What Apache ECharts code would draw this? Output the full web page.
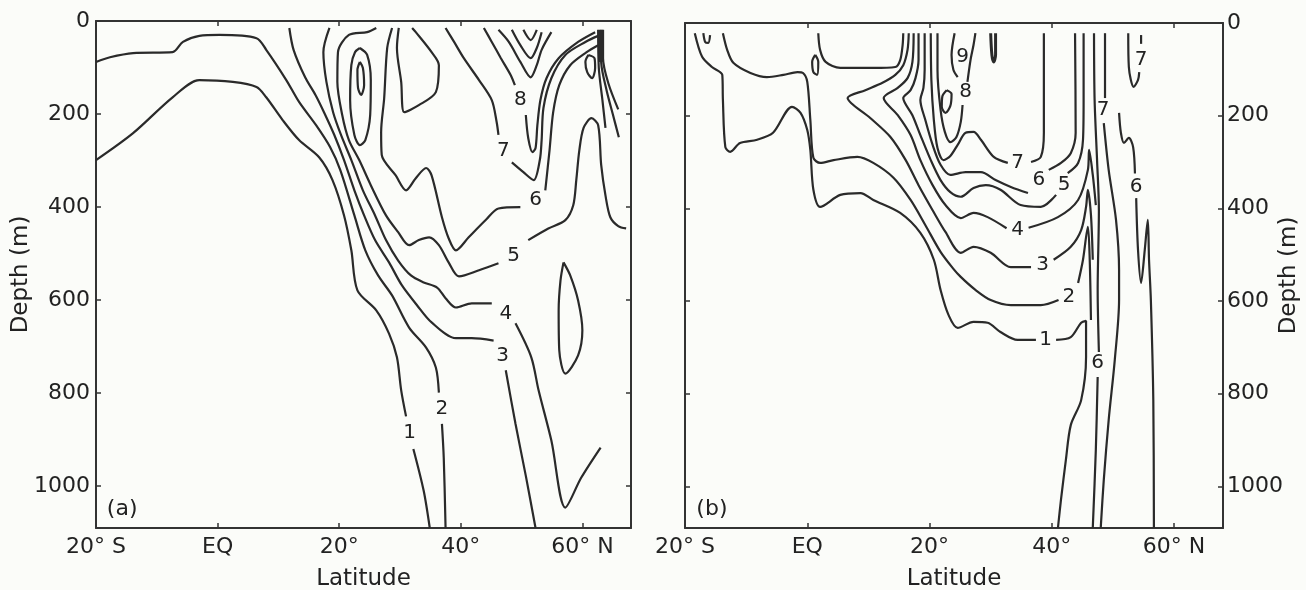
<!DOCTYPE html>
<html>
<head>
<meta charset="utf-8">
<script src="https://cdn.jsdelivr.net/npm/echarts@6/dist/echarts.min.js"></script>
<style>
  html, body { margin: 0; padding: 0; background: #fbfcf9; }
  #chart { width: 1306px; height: 590px; }
</style>
</head>
<body>
<div id="chart"></div>
<script>
// Axis ticks
const latTicks = [-20, 0, 20, 40, 60];
const latTickLabels = ['20° S', 'EQ', '20°', '40°', '60° N'];
const depthTicks = [0, 200, 400, 600, 800, 1000];

// ---- Panel (a): isolines as [latitude, depth] segments (gaps hold the labels)
const a1 = [
  [[-20,299],[-13.9,241],[-7.4,164],[-3,127],[2.5,131],[6.4,142],[8,164],[10.7,213],[13.4,256],[16.7,293],[18.9,342],[20.8,418],[22,493],[23,579],[26.1,622],[28.2,672],[29.5,723],[30.2,794],[31,850]],
  [[32.2,920],[33.9,1010],[34.9,1090]]
];
const a2 = [
  [[-20,88],[-17.7,78],[-13.9,69],[-7.4,67],[-5.7,45],[-3,32],[0.3,30],[6.4,37],[8,62],[11.3,127],[13.4,174],[16.2,224],[18.5,271],[20.2,321],[22.5,418],[24.3,493],[26.4,547],[28.7,590],[31.5,659],[34.3,702],[35.9,745],[36.4,799]],
  [[36.9,866],[37.2,939],[37.5,1090]]
];
const a3 = [
  [[11.8,15],[12.5,62],[14.4,121],[16.1,159],[17.5,196],[19.2,245],[20.8,299],[22.5,364],[24.1,418],[25.9,471],[28.2,519],[30.3,568],[32.8,611],[35.2,648],[39.2,682],[41.8,682],[45.4,687]],
  [[47.4,751],[49,866],[50.7,978],[52.3,1090]]
];
const a4 = [
  [[18.4,15],[17.4,67],[17.9,131],[19,196],[20.3,245],[22,299],[23.9,364],[25.9,418],[27.7,471],[29.7,515],[31.8,547],[33.9,562],[36.1,573],[37.5,596],[39.2,616],[41.8,607],[45.1,607]],
  [[49,650],[51.6,723],[52.8,794],[54.9,902],[57.2,1046],[59.8,982],[63,917]]
];
const a5 = [
  [[26.1,15],[24.6,24],[21.6,30],[19.8,67],[19.7,131],[20.5,202],[21.6,256],[23.3,299],[25.2,353],[27.7,418],[29.7,454],[31.5,482],[33.1,471],[34.8,465],[36.4,482],[38,519],[39.7,549],[43,536],[46.2,521]],
  [[51.1,471],[54.4,446],[57.2,428],[58.5,396],[59,342],[59.5,278],[60.2,230],[61.5,209],[62.6,224],[63.1,310],[63.8,375],[64.6,422],[65.9,441],[67.2,446]]
];
const a6 = [
  [[28.7,15],[27.9,58],[27.4,166],[26.9,239],[27,288],[29.3,332],[31,364],[32.6,338],[34.3,316],[35.2,332],[36.9,422],[38,467],[39.2,493],[41.3,465],[44.1,428],[46.2,403],[49.8,400]],
  [[53.9,364],[54.6,278],[55.2,196],[56.2,138],[58,95],[60.7,67],[62.6,52]]
];
const a7 = [
  [[37.5,15],[38.9,45],[40.5,80],[43,127],[45.1,170],[45.9,217],[46.2,245]],
  [[48.4,304],[50.3,325],[52,342],[53,299],[53.3,256],[53.6,187],[54.9,123],[57.2,73],[60.5,45],[62.6,32]]
];
const a8 = [
  [[43.8,15],[45.1,45],[46.6,80],[48.2,116],[48.9,138]],
  [[50.7,202],[51.1,252],[51.8,282],[52.3,273],[52.6,224],[53.1,170],[54.1,123],[56.1,80],[59.3,45],[62.1,24]]
];
const a9 = [[[46.2,19],[47.9,45],[49.8,88],[51.5,121],[52.5,95],[53.3,62],[54.9,24]]];
const a10 = [[[48.4,19],[49.8,52],[51.5,80],[52.5,58],[53.3,24]]];
const a11 = [[[50.3,19],[51.5,41],[52.5,19]]];
const aPocket = [[[29.8,15],[29.5,58],[30.2,131],[30.7,196],[33.1,181],[35.9,153],[36.4,95],[35.2,67],[32.6,24],[32,15]]];
const aEye = [
  [[23.4,58],[24.6,73],[25.2,127],[25.1,202],[24.3,256],[23.4,267],[22.5,245],[21.8,170],[22,95],[22.6,67],[23.4,58]],
  [[23.4,88],[23.9,101],[24.1,138],[23.6,159],[23.1,144],[23,105],[23.4,88]]
];
const aLens = [[[56.9,519],[58,547],[59.3,601],[60,665],[59.3,719],[57.2,758],[56.2,708],[56.1,622],[56.4,558],[56.9,519]]];
const aDrop = [[[61,73],[62,80],[62.1,101],[61.6,123],[60.8,110],[60.5,88],[61,73]]];
const aFront = [
  [[63.4,19],[63.4,80],[64.3,135],[65.9,190]],
  [[63,19],[63.1,90],[64,150],[65,200],[66,250]],
  [[62.6,19],[62.7,100],[63.3,170],[63.8,230]]
];
const aFrontCore = [[[62.9,19],[63.1,88]]];
const labelsA = [['1',31.6,885],['2',36.9,833],['3',46.9,719],['4',47.4,629],['5',48.7,504],['6',52.3,385],['7',47,278],['8',49.8,170]];

// ---- Panel (b)
const b1 = [
  [[-18.4,22],[-17.2,73],[-15.6,95],[-13.9,112],[-13.8,166],[-13.4,268],[-12.6,278],[-11,259],[-8.2,252],[-5.6,237],[-2.5,181],[-1.1,194],[0,231],[0.5,274],[1,360],[2.1,397],[5.4,371],[8.7,367],[10.8,382],[15.2,410],[18.5,453],[20.7,511],[21.8,576],[23.1,630],[24.6,658],[27.2,645],[29.5,647],[31.6,667],[34.4,684],[37.4,684]],
  [[40.7,684],[43.1,678],[44.8,647],[45.6,643],[45.6,721],[44.8,814],[43.1,868],[42.3,943],[41.5,1029],[41,1090]]
];
const b2 = [
  [[-13.8,22],[-13.1,58],[-12.1,86],[-9.3,108],[-6.6,117],[-3.9,112],[-1.6,106],[-0.7,108],[0,127],[0.5,209],[1,291],[2.1,302],[4.3,296],[8.2,289],[10.8,302],[14.1,334],[16.9,382],[19.3,436],[21.8,494],[23.8,529],[25.1,548],[27.5,576],[30,598],[33.3,609],[38.2,609],[41.1,598]],
  [[44.3,561],[45.1,511],[45.9,440],[46.2,511],[46.4,641]]
];
const b3 = [
  [[16.6,22],[16.4,58],[15.7,91],[14.4,112],[12.3,129],[9.5,145],[6.6,162],[10.3,205],[13.6,246],[16.1,296],[18.2,350],[20.5,404],[22.6,451],[25.1,496],[27.2,483],[30,496],[33.3,527],[36.6,527]],
  [[40.3,511],[43.1,483],[44.8,447],[45.6,397],[45.9,360],[46.4,414],[46.7,511]]
];
const b4 = [
  [[17.4,22],[17.2,84],[16.4,119],[14.8,140],[12.5,162],[14.8,199],[16.9,242],[18.5,296],[20.5,350],[22.6,393],[25.1,421],[27.2,410],[29.5,419],[32.6,443]],
  [[36.2,442],[41,419],[44.3,382],[45.9,317],[46.1,274],[46.7,328],[47.2,393]]
];
const b5 = [
  [[18.2,22],[18.2,80],[17.7,119],[16.9,145],[15.7,162],[17.2,199],[18.5,242],[20.2,296],[21.8,339],[23.4,365],[25.1,375],[27.2,356],[29.2,350],[31.6,360],[34.9,393],[38.2,397],[40.7,371]],
  [[42.6,324],[44.3,302],[45.1,252],[45.2,166],[45.2,22]]
];
const b6 = [
  [[19.2,22],[19.2,101],[19,140],[18.5,166],[19.3,209],[20.5,263],[21.8,306],[23.4,328],[25.9,322],[28.4,322],[30.8,339],[33.3,354],[36.1,367]],
  [[39.5,317],[41.5,302],[43.1,281],[43.9,237],[43.8,22]]
];
const b7 = [
  [[20.2,22],[20.3,123],[20.7,209],[21.3,270],[22.3,296],[23.4,287],[24.6,263],[25.9,237],[27.2,235],[28.4,252],[30.5,289],[32.8,302]],
  [[36.6,300],[38.2,289],[38.7,237],[38.7,22]]
];
const b8 = [
  [[21.3,22],[21.3,101],[21.8,187],[22.5,235],[23.4,257],[24.4,246],[25.1,214],[25.4,177]],
  [[26.2,127],[26.7,80],[27.2,47],[27.5,22]]
];
const b9 = [[[24.1,22],[23.6,69],[23.9,101],[24.6,117]]];
const bLoop = [[[22.8,145],[23.6,153],[23.4,179],[22.6,194],[22,181],[22.1,158],[22.8,145]]];
const bNotch = [[[30,22],[30.2,69],[30.5,84],[30.8,69],[30.8,22]]];
const bShelf = [
  [[1.8,22],[2.1,58],[3,84],[5.4,97],[10.8,97],[14.4,95],[15.2,80],[15.6,47],[15.7,22]],
  [[1.3,69],[1.8,84],[1.6,112],[1,106],[0.8,84],[1.3,69]],
  [[-17,22],[-16.7,41],[-16.2,43],[-15.9,26]]
];
const b6R = [
  [[46.9,22],[47,166],[47.4,296],[47.7,404],[47.5,576],[47.7,710]],
  [[47.5,764],[47.2,921],[46.7,1090]]
];
const b7R = [
  [[48.7,22],[48.7,162]],
  [[48.5,216],[49.3,317],[50.5,425],[51,533],[51,598],[50.3,727],[49.3,857],[48.5,986],[48,1090]]
];
const b6Far = [
  [[51,194],[51.3,237],[51.8,259],[52.6,248],[53.3,268],[53.6,325]],
  [[53.8,378],[54.1,490],[54.6,561],[55.2,490],[55.7,425],[55.9,511],[56.2,598],[56.6,814],[56.7,1090]]
];
const b7Cap = [
  [[52.5,22],[52.6,95],[53.4,138],[54.1,123],[54.3,106]],
  [[54.6,26],[54.6,45]]
];
const labelsB = [['1',39,684],['2',42.8,591],['3',38.5,522],['4',34.4,447],['5',42,350],['6',37.9,339],['7',34.4,302],['8',25.9,149],['9',25.4,73],['7',54.6,80],['7',48.4,188],['6',53.8,354],['6',47.5,734]];

const INK = '#2a2a2a';
const TEXT = '#222222';
const FONT = 'DejaVu Sans';

const series = [];
function addLines(segs, panel, width) {
  segs.forEach(seg => series.push({
    type: 'line', xAxisIndex: panel * 2, yAxisIndex: panel * 2,
    data: seg, symbol: 'none', smooth: 0.3, silent: true, animation: false, z: 3,
    lineStyle: { color: INK, width: width || 2.2 }
  }));
}
function addLabels(list, panel, size) {
  series.push({
    type: 'scatter', xAxisIndex: panel * 2, yAxisIndex: panel * 2,
    symbolSize: 1, itemStyle: { opacity: 0 }, silent: true, animation: false, z: 4,
    label: {
      show: true, position: 'inside', formatter: '{b}', fontFamily: FONT, fontSize: size || 20,
      color: TEXT, opacity: 1, textBorderWidth: 0
    },
    data: list.map(([t, x, y]) => ({ name: t, value: [x, y] }))
  });
}

[a1, a2, a3, a4, a5, a6, a7, a8, a9, a10, a11, aPocket, aEye, aLens, aDrop, aFront].forEach(s => addLines(s, 0));
addLines(aFrontCore, 0, 5);
addLabels(labelsA, 0);
[b1, b2, b3, b4, b5, b6, b7, b8, b9, bLoop, bShelf, b6R, b7R, b6Far, b7Cap].forEach(s => addLines(s, 1));
addLines(bNotch, 1, 3);
addLabels(labelsB, 1);

// panel tags
addLabels([['(a)', -15.7, 1049]], 0, 22);
addLabels([['(b)', -15.6, 1049]], 1, 22);

const axisLineStyle = { color: '#333', width: 2 };
function latAxis(grid, pos, labelled) {
  return {
    type: 'value', gridIndex: grid, position: pos, min: -20, max: 68, interval: 20,
    axisLine: { show: true, onZero: false, lineStyle: axisLineStyle },
    axisTick: { show: true, inside: true, length: 5, lineStyle: { color: '#333', width: 1.5 } },
    axisLabel: {
      show: labelled, margin: 8, fontFamily: FONT, fontSize: 22, color: TEXT,
      formatter: v => { const i = latTicks.indexOf(v); return i < 0 ? '' : latTickLabels[i]; }
    },
    splitLine: { show: false },
    name: labelled ? 'Latitude' : '', nameLocation: 'middle', nameGap: 40, nameMoveOverlap: false,
    nameTextStyle: { fontFamily: FONT, fontSize: 23, color: TEXT }
  };
}
function depthAxis(grid, pos, labelled, gap, margin) {
  return {
    type: 'value', gridIndex: grid, position: pos, inverse: true, min: 0, max: 1090, interval: 200,
    axisLine: { show: true, onZero: false, lineStyle: axisLineStyle },
    axisTick: { show: true, inside: true, length: 5, lineStyle: { color: '#333', width: 1.5 } },
    axisLabel: {
      show: labelled, margin: margin, fontFamily: FONT, fontSize: 22, color: TEXT,
      formatter: v => depthTicks.includes(v) ? String(v) : ''
    },
    splitLine: { show: false },
    name: labelled ? 'Depth (m)' : '', nameLocation: 'middle', nameRotate: 90, nameGap: gap,
    nameMoveOverlap: false,
    nameTextStyle: { fontFamily: FONT, fontSize: 23, color: TEXT }
  };
}

const chart = echarts.init(document.getElementById('chart'), null, { renderer: 'canvas' });
chart.setOption({
  backgroundColor: '#fbfcf9',
  animation: false,
  grid: [
    { left: 96, top: 21, width: 535, height: 507, outerBoundsMode: 'none' },
    { left: 685, top: 23, width: 538, height: 505, outerBoundsMode: 'none' }
  ],
  xAxis: [latAxis(0, 'bottom', true), latAxis(0, 'top', false), latAxis(1, 'bottom', true), latAxis(1, 'top', false)],
  yAxis: [depthAxis(0, 'left', true, 63, 6), depthAxis(0, 'right', false, 0, 6), depthAxis(1, 'left', false, 0, 6), depthAxis(1, 'right', true, 55, 4)],
  series: series
});
</script>
</body>
</html>
